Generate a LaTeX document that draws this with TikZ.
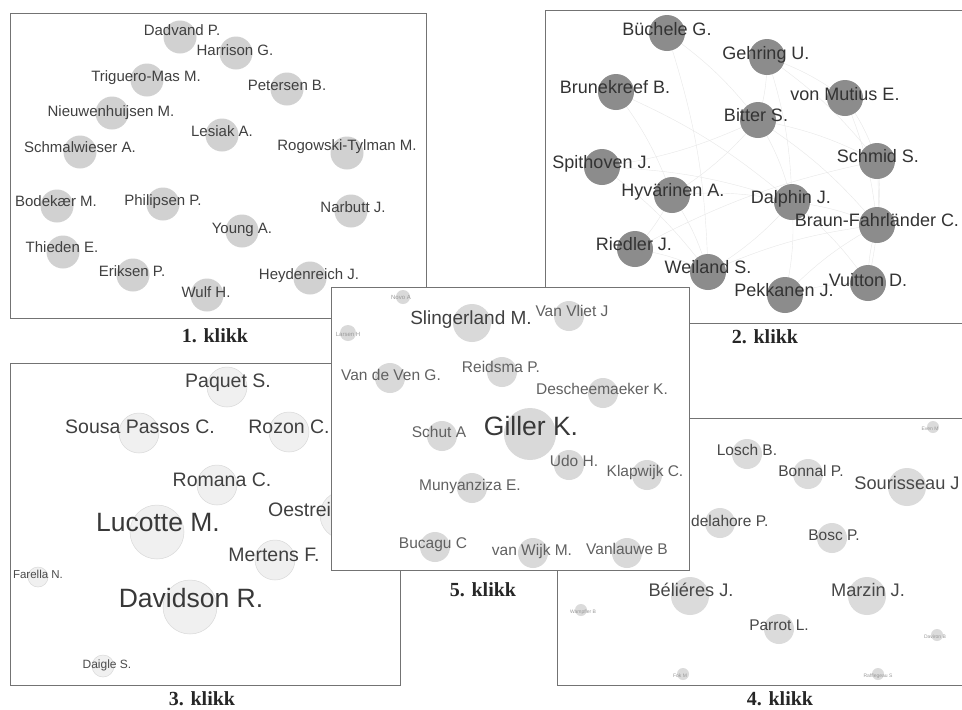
\documentclass[tikz,border=0pt]{standalone}
\usepackage{fontspec}
\setmainfont{Liberation Sans}
\newfontfamily\capfont{Liberation Serif}
\begin{document}
\begin{tikzpicture}[x=1pt,y=-1pt,
  panel/.style={draw=black!55,line width=0.7pt,fill=white},
  bubA/.style={circle,inner sep=0pt,fill=black!18},
  bubB/.style={circle,inner sep=0pt,fill=black!45},
  bubC/.style={circle,inner sep=0pt,fill=black!6,draw=black!15,line width=0.5pt},
  bubD/.style={circle,inner sep=0pt,fill=black!14},
  bubE/.style={circle,inner sep=0pt,fill=black!15},
  txt/.style={inner sep=0pt,text height=0.72em,text depth=0pt},
  txtA/.style={txt,text=black!75,font=\fontsize{15}{15}\selectfont},
  txtB/.style={txt,text=black!80,font=\fontsize{18}{18}\selectfont},
  txtC/.style={txt,text=black!75,font=\fontsize{19.5}{20}\selectfont},
  txtD/.style={txt,text=black!72,font=\fontsize{15.5}{16}\selectfont},
  txtE/.style={txt,text=black!62,font=\fontsize{15.5}{16}\selectfont},
  edgeB/.style={draw=black!9,line width=0.4pt},
  caption/.style={inner sep=0pt,font=\capfont\bfseries\fontsize{20}{20}\selectfont,text=black!85}
]
\newcommand\bb[8]{%
  \node[bub#5,minimum size=#4pt] (#1) at (#2,#3) {};
  \node[txt#5] (#1-l) at (#7,#8) {#6};}
\useasboundingbox (0,0) rectangle (962,710);
\fill[white] (0,0) rectangle (962,710);

% ---------- Panel 1 ----------
\draw[panel] (10,13) rectangle (426,318);
\bb{dad}{180}{37}{33}{A}{Dadvand P.}{182}{32}
\bb{har}{236}{53}{33}{A}{Harrison G.}{235}{52}
\bb{tri}{147}{80}{33}{A}{Triguero-Mas M.}{146}{78}
\bb{pet}{287}{89}{33}{A}{Petersen B.}{287}{87}
\bb{nie}{112}{113}{33}{A}{Nieuwenhuijsen M.}{111}{113}
\bb{les}{222}{135}{33}{A}{Lesiak A.}{222}{133}
\bb{smw}{80}{152}{33}{A}{Schmalwieser A.}{80}{149}
\bb{rog}{347}{153}{33}{A}{Rogowski-Tylman M.}{347}{147}
\bb{bod}{57}{206}{33}{A}{Bodekær M.}{56}{203}
\bb{phi}{163}{204}{33}{A}{Philipsen P.}{163}{202}
\bb{nar}{351}{211}{33}{A}{Narbutt J.}{353}{209}
\bb{you}{242}{231}{33}{A}{Young A.}{242}{230}
\bb{thi}{63}{252}{33}{A}{Thieden E.}{62}{249}
\bb{eri}{133}{275}{33}{A}{Eriksen P.}{132}{273}
\bb{hey}{310}{278}{33}{A}{Heydenreich J.}{309}{276}
\bb{wul}{207}{295}{33}{A}{Wulf H.}{206}{294}
\node[caption] (cap1) at (215,336) {1. klikk};

% ---------- Panel 2 ----------
\draw[panel] (545,10) rectangle (968,323);
\foreach \n/\x/\y in {bue/667/33,geh/767/57,bru/616/92,vmu/845/98,bit/758/120,
  scd/877/161,spi/602/167,hyv/672/195,dal/792/202,bra/877/225,rie/635/249,
  wei/708/272,vui/868/283,pek/785/295}
  \coordinate (c\n) at (\x,\y);
\foreach \a/\b in {geh/bit,geh/vmu,geh/dal,bit/dal,bit/scd,bit/hyv,bit/spi,
  bru/hyv,bru/dal,vmu/scd,vmu/bra,scd/bra,scd/vui,dal/bra,dal/vui,dal/pek,
  dal/wei,hyv/rie,hyv/wei,rie/wei,rie/scd,wei/bra,pek/bra,vui/bra,spi/dal,
  bue/bit,bue/wei,geh/scd,spi/wei,hyv/dal,pek/vui,bit/bra}
  \draw[edgeB] (c\a) to[bend left=8] (c\b);
\bb{bue}{667}{33}{36}{B}{Büchele G.}{667}{32}
\bb{geh}{767}{57}{36}{B}{Gehring U.}{766}{56}
\bb{bru}{616}{92}{36}{B}{Brunekreef B.}{615}{90}
\bb{vmu}{845}{98}{36}{B}{von Mutius E.}{845}{97}
\bb{bit}{758}{120}{36}{B}{Bitter S.}{756}{118}
\bb{scd}{877}{161}{36}{B}{Schmid S.}{878}{159}
\bb{spi}{602}{167}{36}{B}{Spithoven J.}{602}{165}
\bb{hyv}{672}{195}{36}{B}{Hyvärinen A.}{673}{193}
\bb{dal}{792}{202}{36}{B}{Dalphin J.}{791}{200}
\bb{bra}{877}{225}{36}{B}{Braun-Fahrländer C.}{877}{223}
\bb{rie}{635}{249}{36}{B}{Riedler J.}{634}{247}
\bb{wei}{708}{272}{36}{B}{Weiland S.}{708}{270}
\bb{vui}{868}{283}{36}{B}{Vuitton D.}{868}{283}
\bb{pek}{785}{295}{36}{B}{Pekkanen J.}{784}{293}
\node[caption] (cap2) at (765,337) {2. klikk};

% ---------- Panel 3 ----------
\draw[panel] (10,363) rectangle (400,685);
\bb{paq}{227}{387}{40}{C}{Paquet S.}{228}{384}
\bb{sou}{139}{433}{40}{C}{Sousa Passos C.}{140}{430}
\bb{roz}{289}{432}{40}{C}{Rozon C.}{289}{430}
\bb{rom}{217}{485}{40}{C}{Romana C.}{222}{483}
\node[bubC,minimum size=48pt] (oes) at (344,515) {};
\node[txtC,anchor=west] (oes-l) at (268,513) {Oestrei};
\node[bubC,minimum size=54pt] (luc) at (157,532) {};
\node[txt,text=black!78,font=\fontsize{26.5}{27}\selectfont] (luc-l) at (158,528) {Lucotte M.};
\bb{mer}{275}{560}{40}{C}{Mertens F.}{274}{558}
\node[bubC,minimum size=20pt] (far) at (38,577) {};
\node[txt,text=black!70,font=\fontsize{11.5}{12}\selectfont] (far-l) at (38,575) {Farella N.};
\node[bubC,minimum size=54pt] (dav) at (190,607) {};
\node[txt,text=black!78,font=\fontsize{26.5}{27}\selectfont] (dav-l) at (191,604) {Davidson R.};
\node[bubC,minimum size=22pt] (dai) at (103,666) {};
\node[txt,text=black!70,font=\fontsize{12}{12}\selectfont] (dai-l) at (107,665) {Daigle S.};
\node[caption] (cap3) at (202,699) {3. klikk};

% ---------- Panel 4 ----------
\draw[panel] (557,418) rectangle (968,685);
\node[bubD,minimum size=12pt] (eve) at (933,427) {};
\node[txt,text=black!40,font=\fontsize{5}{5}\selectfont] (eve-l) at (930,427) {Even M};
\bb{los}{747}{454}{30}{D}{Losch B.}{747}{452}
\bb{bon}{808}{474}{30}{D}{Bonnal P.}{811}{473}
\node[bubD,minimum size=38pt] (sor) at (907,487) {};
\node[txt,text=black!72,font=\fontsize{18.2}{18}\selectfont] (sor-l) at (907,486) {Sourisseau J};
\node[bubD,minimum size=30pt] (del) at (720,523) {};
\node[txtD,anchor=west] (del-l) at (691,523) {delahore P.};
\bb{bos}{832}{538}{30}{D}{Bosc P.}{834}{537}
\node[bubD,minimum size=38pt] (bel) at (690,596) {};
\node[txt,text=black!72,font=\fontsize{18.2}{18}\selectfont] (bel-l) at (691,593) {Béliéres J.};
\node[bubD,minimum size=38pt] (mar) at (867,596) {};
\node[txt,text=black!72,font=\fontsize{18.2}{18}\selectfont] (mar-l) at (868,593) {Marzin J.};
\bb{par}{779}{629}{30}{D}{Parrot L.}{779}{627}
\node[bubD,minimum size=12pt] (wam) at (581,610) {};
\node[txt,text=black!40,font=\fontsize{5}{5}\selectfont] (wam-l) at (583,610) {Wampfler B};
\node[bubD,minimum size=12pt] (dav4) at (937,635) {};
\node[txt,text=black!40,font=\fontsize{5}{5}\selectfont] (dav4-l) at (935,635) {Daviron B};
\node[bubD,minimum size=12pt] (fok) at (683,674) {};
\node[txt,text=black!40,font=\fontsize{5}{5}\selectfont] (fok-l) at (680,674) {Fok M};
\node[bubD,minimum size=12pt] (raf) at (878,674) {};
\node[txt,text=black!40,font=\fontsize{5}{5}\selectfont] (raf-l) at (878,674) {Rafflegeau S};
\node[caption] (cap4) at (780,699) {4. klikk};

% ---------- Panel 5 (on top) ----------
\fill[white] (331,287) rectangle (689,570);
\begin{scope}
\clip (331,287) rectangle (689,570);
\node[bubE,minimum size=14pt] (nov) at (403,297) {};
\node[txt,text=black!40,font=\fontsize{6}{6}\selectfont] (nov-l) at (401,296) {Novo A};
\node[bubE,minimum size=16pt] (lar) at (348,333) {};
\node[txt,text=black!40,font=\fontsize{6}{6}\selectfont] (lar-l) at (348,333) {Larsen H};
\node[bubE,minimum size=38pt] (sli) at (472,323) {};
\node[txt,text=black!75,font=\fontsize{19}{19}\selectfont] (sli-l) at (471,321) {Slingerland M.};
\bb{vvl}{569}{316}{30}{E}{Van Vliet J}{572}{313}
\bb{vdv}{390}{378}{30}{E}{Van de Ven G.}{391}{377}
\bb{rei}{502}{372}{30}{E}{Reidsma P.}{501}{369}
\bb{des}{603}{393}{30}{E}{Descheemaeker K.}{602}{391}
\node[bubE,minimum size=52pt] (gil) at (530,434) {};
\node[txt,text=black!78,font=\fontsize{26.5}{27}\selectfont] (gil-l) at (531,432) {Giller K.};
\bb{shu}{442}{436}{30}{E}{Schut A}{439}{434}
\bb{udo}{569}{465}{30}{E}{Udo H.}{574}{463}
\bb{kla}{647}{475}{30}{E}{Klapwijk C.}{645}{473}
\bb{mun}{472}{488}{30}{E}{Munyanziza E.}{470}{487}
\bb{buc}{435}{547}{30}{E}{Bucagu C}{433}{545}
\bb{vwi}{533}{553}{30}{E}{van Wijk M.}{532}{552}
\bb{vla}{627}{553}{30}{E}{Vanlauwe B}{627}{551}
\end{scope}
\draw[draw=black!55,line width=0.7pt] (331,287) rectangle (689,570);
\node[caption] (cap5) at (483,590) {5. klikk};
\end{tikzpicture}
\end{document}
